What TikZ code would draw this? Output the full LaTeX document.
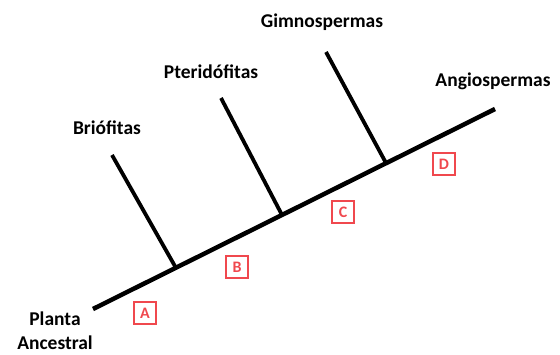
\documentclass[tikz,border=0pt]{standalone}
\usepackage{fontspec}
\setmainfont{Carlito}
\usetikzlibrary{positioning}
\definecolor{boxred}{HTML}{F0484E}
\tikzset{
  trunk/.style ={line width=4.5pt, line cap=butt},
  branch/.style={line width=3.8pt},
  taxon/.style ={font=\fontsize{19.5}{24}\selectfont\bfseries, align=center, inner sep=0pt},
  trait/.style ={rectangle, draw=boxred, line width=1.3pt, text=boxred,
                 minimum width=22pt, minimum height=22pt, inner sep=0pt,
                 font=\fontsize{16}{18}\selectfont\bfseries}
}
\begin{document}
\begin{tikzpicture}[x=1pt,y=-1pt]
\useasboundingbox (0,0) rectangle (560,354);
% main line and branch points
\coordinate (root) at (93,309);
\coordinate (tip)  at (495,109);
\coordinate (n1)   at (176,268);
\coordinate (n2)   at (282,215);
\coordinate (n3)   at (386,163);
\coordinate (bri)  at (112,155);
\coordinate (pte)  at (221,98);
\coordinate (gim)  at (326,52);
\draw[trunk] (root) -- (tip);
\draw[branch] (bri) -- (n1);
\draw[branch] (pte) -- (n2);
\draw[branch] (gim) -- (n3);
% taxa
\node[taxon] (lbri) at (107,128) {Briófitas};
\node[taxon] (lpte) at (211,72)  {Pteridófitas};
\node[taxon] (lgim) at (322,22)  {Gimnospermas};
\node[taxon] (lang) at (493,81)  {Angiospermas};
\node[taxon] (lanc) at (55,331)  {Planta\\Ancestral};
% characters
\node[trait] (A) at (145,313) {A};
\node[trait] (B) at (237,267) {B};
\node[trait] (C) at (343,212) {C};
\node[trait] (D) at (444,164) {D};
\end{tikzpicture}
\end{document}
